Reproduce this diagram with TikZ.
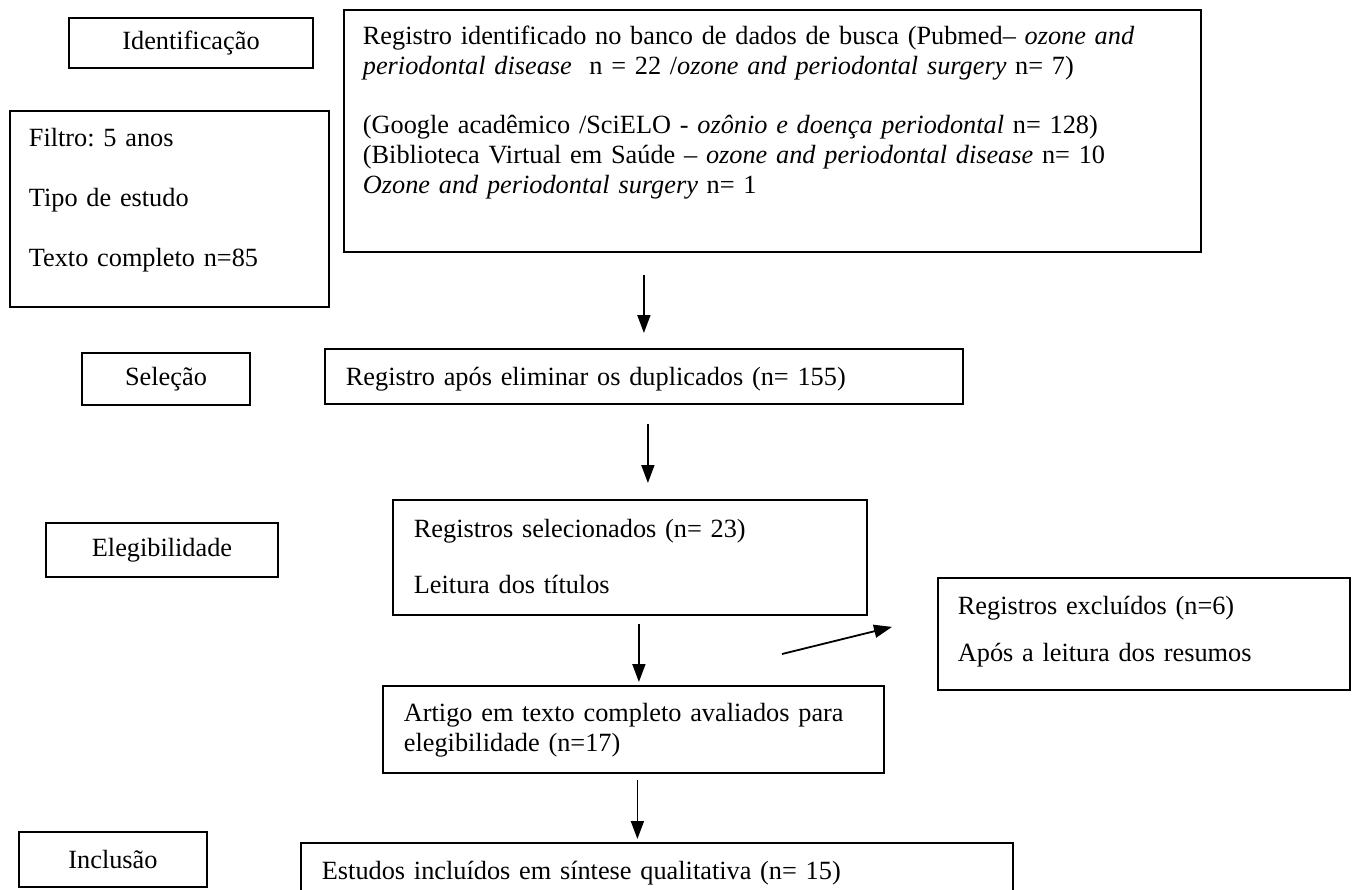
\documentclass[tikz,border=0pt]{standalone}
\usepackage{fontspec}
\setmainfont{Liberation Serif}
\usetikzlibrary{arrows.meta}
\frenchspacing
\begin{document}
\begin{tikzpicture}[x=1pt,y=-1pt,font=\fontsize{26.3}{30}\selectfont,
    stage/.style={draw, line width=1.8pt, inner sep=0pt, align=center},
    txtbox/.style={draw, line width=1.8pt, inner ysep=0pt, anchor=north west, align=left},
    arr/.style={line width=1.8pt, ->, >={Triangle[length=18pt,width=13pt]}}]
  \path[use as bounding box] (0,0) rectangle (1354,889);
  \clip (0,0) rectangle (1354,889);

  % fases
  \node[stage, minimum width=244pt, minimum height=50pt] (ident) at (191,43) {Identificação};
  \node[stage, minimum width=168pt, minimum height=52pt] (sel) at (166,379) {Seleção};
  \node[stage, minimum width=232pt, minimum height=54pt] (eleg) at (162,550) {Elegibilidade};
  \node[stage, minimum width=188pt, minimum height=55pt] (incl) at (113,859.5) {Inclusão};

  % caixas de texto
  \node[txtbox, text width=281pt, inner xsep=19pt, text height=36pt, text depth=160pt] (filt) at (9,110)
    {Filtro: 5 anos\\[30pt]Tipo de estudo\\[30pt]Texto completo n=85};
  \node[txtbox, text width=819pt, inner xsep=19pt, text height=35pt, text depth=207pt] (reg) at (343,9)
    {Registro identificado no banco de dados de busca (Pubmed– \textit{ozone and}\\
     \textit{periodontal disease}\ \ n = 22 /\textit{ozone and periodontal surgery} n= 7)\\[29pt]
     (Google acadêmico /SciELO - \textit{ozônio e doença periodontal} n= 128)\\
     (Biblioteca Virtual em Saúde – \textit{ozone and periodontal disease} n= 10\\
     \textit{Ozone and periodontal surgery} n= 1};
  \node[txtbox, text width=596pt, inner xsep=21pt, text height=37pt, text depth=18pt] (dup) at (324,348)
    {Registro após eliminar os duplicados (n= 155)};
  \node[txtbox, text width=432pt, inner xsep=21pt, text height=38pt, text depth=77pt] (tit) at (392,499)
    {Registros selecionados (n= 23)\\[26pt]Leitura dos títulos};
  \node[txtbox, text width=459pt, inner xsep=21pt, text height=36pt, text depth=51pt] (art) at (382,685)
    {Artigo em texto completo avaliados para\\elegibilidade (n=17)};
  \node[txtbox, text width=372pt, inner xsep=20pt, text height=37pt, text depth=75pt] (exc) at (937,577)
    {Registros excluídos (n=6)\\[17pt]Após a leitura dos resumos};
  \node[txtbox, text width=670pt, inner xsep=21pt, text height=37pt, text depth=60pt] (est) at (300,842)
    {Estudos incluídos em síntese qualitativa (n= 15)};

  % setas
  \draw[arr, shorten <=22pt, shorten >=15pt] (reg.south -| dup.north) -- (dup.north);
  \draw[arr, shorten <=19pt, shorten >=16pt] ([xshift=4pt]dup.south) -- ([xshift=4pt]dup.south |- tit.north);
  \draw[arr, shorten <=8pt, shorten >=3pt] ([xshift=9pt]tit.south) -- ([xshift=9pt]tit.south |- art.north);
  \draw[arr, shorten <=6pt, shorten >=3pt] ([xshift=4pt]art.south) -- ([xshift=4pt]art.south |- est.north);
  \coordinate (xs) at (782,654);
  \draw[arr] (xs) -- ([xshift=-45pt,yshift=7pt]exc.west);
\end{tikzpicture}
\end{document}
